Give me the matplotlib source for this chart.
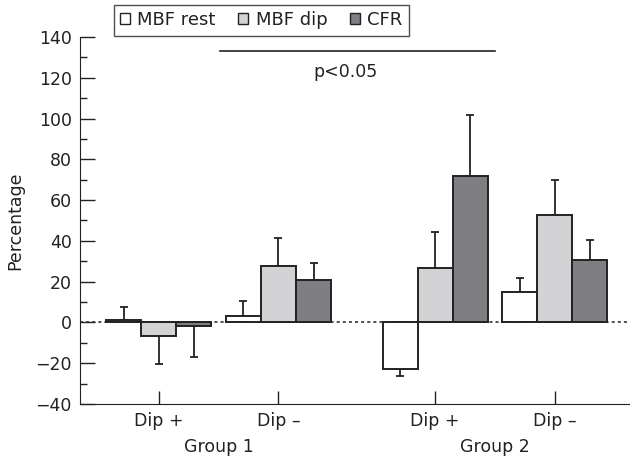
import matplotlib
matplotlib.use("Agg")
import matplotlib.pyplot as plt
from matplotlib.patches import Patch
from matplotlib.ticker import MultipleLocator
import numpy as np

INK = "#222222"
FILLS = ["white", "#d3d3d5", "#7f7f83"]

series = ["MBF rest", "MBF dip", "CFR"]
subgroups = ["Dip +", "Dip \u2013", "Dip +", "Dip \u2013"]
groups = ["Group 1", "Group 2"]

# rows = series, cols = subgroups (G1 Dip+, G1 Dip-, G2 Dip+, G2 Dip-)
means = [
    [1.0, 3.0, -23.0, 15.0],
    [-6.5, 27.5, 26.6, 52.8],
    [-1.8, 21.0, 71.8, 30.6],
]
sems = [
    [6.5, 7.5, 3.5, 6.7],
    [14.0, 14.0, 17.8, 17.0],
    [15.0, 8.3, 30.0, 10.0],
]

plt.rcParams.update({
    "font.family": "DejaVu Sans", "font.size": 12.5,
    "text.color": INK, "xtick.color": INK, "ytick.color": INK,
    "axes.edgecolor": INK, "axes.labelcolor": INK,
})

fig = plt.figure(figsize=(6.3, 4.65), dpi=100)
ax = fig.add_axes([80 / 630, 1 - 404 / 465, 550 / 630, 367 / 465])

pos = np.array([0.0, 1.0, 2.31, 3.31])
w = 0.293
for i, name in enumerate(series):
    x = pos + (i - 1) * w
    m = np.array(means[i])
    e = np.array(sems[i])
    lo = np.where(m < 0, e, 0)
    hi = np.where(m >= 0, e, 0)
    ax.errorbar(x, m, yerr=[lo, hi], fmt="none", ecolor=INK,
                elinewidth=1.3, capsize=3, capthick=1.3, zorder=2)
    ax.bar(x, m, width=w, color=FILLS[i], edgecolor=INK,
           linewidth=1.4, zorder=3)

ax.axhline(0, color=INK, lw=1.1, ls=(0, (2, 2)), zorder=4)

ax.set_xlim(-0.66, 3.94)
ax.set_ylim(-40, 140)
ax.yaxis.set_major_locator(MultipleLocator(20))
ax.yaxis.set_minor_locator(MultipleLocator(10))
ax.tick_params(axis="y", which="major", direction="in", length=11, width=1, pad=6)
ax.tick_params(axis="y", which="minor", direction="in", length=5, width=1)
ax.set_xticks(pos)
ax.set_xticklabels(subgroups)
ax.tick_params(axis="x", direction="in", length=9.5, width=1, pad=6)
for s in ("top", "right"):
    ax.spines[s].set_visible(False)
ax.set_ylabel("Percentage", labelpad=8)

tr = ax.get_xaxis_transform()
for g, x in zip(groups, [pos[:2].mean(), pos[2:].mean()]):
    ax.text(x, -0.117, g, transform=tr, ha="center", va="center")

# significance bar
ax.plot([0.51, 2.81], [133, 133], color=INK, lw=1.2, clip_on=False)
ax.text(1.56, 123, "p<0.05", ha="center", va="center")

handles = [Patch(facecolor=c, edgecolor=INK, linewidth=1) for c in FILLS]
fig.legend(handles, series, loc="upper left",
           bbox_to_anchor=(114 / 630, 1 - 5 / 465), ncol=3, fontsize=13,
           frameon=True, fancybox=False, edgecolor=INK,
           handlelength=0.55, handleheight=0.55, handletextpad=0.4,
           columnspacing=1.25, borderpad=0.35, borderaxespad=0)

fig.savefig("out.png", dpi=100)
